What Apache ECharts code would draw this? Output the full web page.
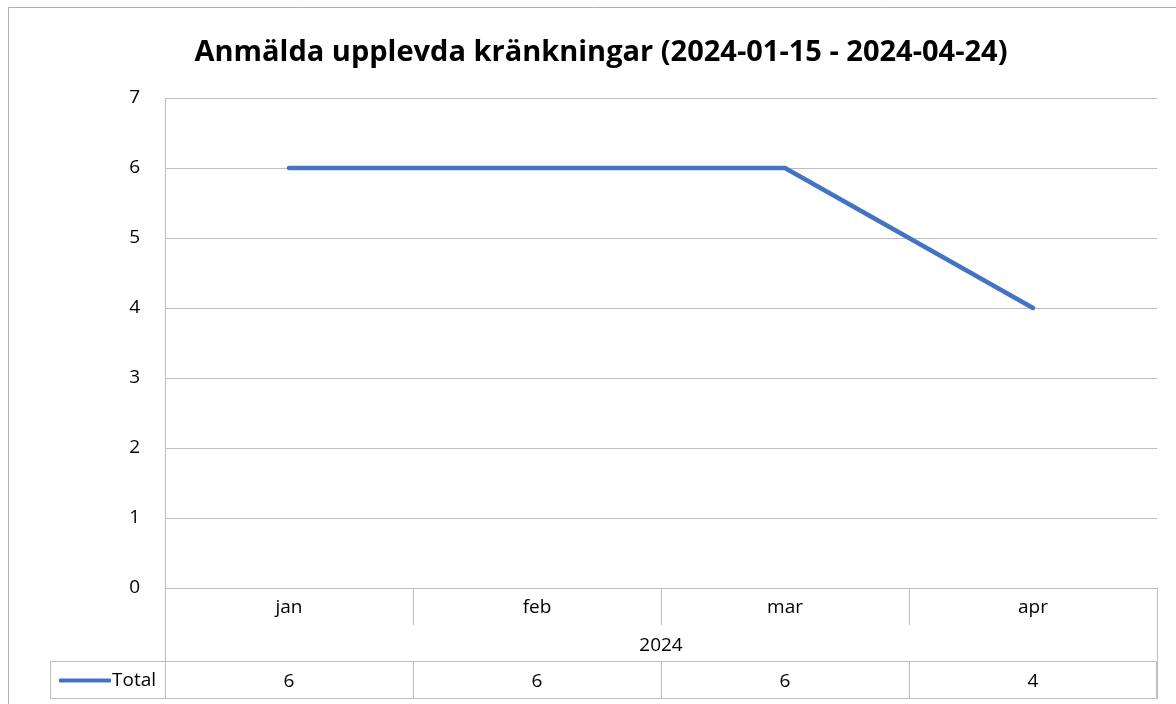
<!DOCTYPE html>
<html>
<head>
<meta charset="utf-8">
<script src="https://cdn.jsdelivr.net/npm/echarts@6/dist/echarts.min.js"></script>
<style>
  html, body { margin: 0; padding: 0; background: #fff; }
  #main { width: 1176px; height: 704px; }
</style>
</head>
<body>
<div id="main"></div>
<script>
var months = ['jan', 'feb', 'mar', 'apr'];
var yearLabel = ['2024'];
var totals = [6, 6, 6, 4];
var seriesName = 'Total';
var chartTitle = 'Anmälda upplevda kränkningar (2024-01-15 - 2024-04-24)';

var myChart = echarts.init(document.getElementById('main'));
var font = 'Open Sans';
var gridColor = '#bfbfbf';

option = {
    animation: false,
    backgroundColor: '#fff',
    textStyle: { fontFamily: font },
    title: {
        text: chartTitle,
        left: 596,
        top: 33,
        textAlign: 'center',
        textStyle: { fontFamily: font, fontWeight: 'bold', fontSize: 29, color: '#000' }
    },
    legend: {
        data: [seriesName],
        left: 54,
        top: 666,
        itemWidth: 52,
        itemHeight: 4,
        itemGap: 0,
        icon: 'roundRect',
        textStyle: { fontFamily: font, fontSize: 19, color: '#000', padding: [0, 0, 0, -4] }
    },
    grid: { left: 165, right: 19, top: 98, bottom: 116 },
    xAxis: [
        {
            type: 'category',
            data: months,
            boundaryGap: true,
            axisLine: { lineStyle: { color: gridColor } },
            axisTick: { show: true, length: 37, lineStyle: { color: gridColor } },
            axisLabel: { color: '#000', fontSize: 19, margin: 10, fontFamily: font }
        },
        {
            type: 'category',
            data: yearLabel,
            position: 'bottom',
            offset: 37,
            boundaryGap: true,
            axisLine: { show: false },
            axisTick: { show: true, length: 36, lineStyle: { color: gridColor } },
            axisLabel: { color: '#000', fontSize: 19, margin: 11, fontFamily: font }
        },
        {
            type: 'category',
            data: totals.map(String),
            position: 'bottom',
            offset: 73,
            boundaryGap: true,
            axisLine: { show: true, lineStyle: { color: gridColor } },
            axisTick: { show: true, length: 38, lineStyle: { color: gridColor } },
            axisLabel: { color: '#000', fontSize: 19, margin: 11, fontFamily: font }
        }
    ],
    yAxis: {
        type: 'value',
        min: 0,
        max: 7,
        interval: 1,
        axisLine: { show: true, lineStyle: { color: gridColor } },
        axisTick: { show: false },
        splitLine: { lineStyle: { color: gridColor } },
        axisLabel: { color: '#000', fontSize: 19, margin: 25, fontFamily: font }
    },
    graphic: [
        {
            type: 'rect',
            shape: { x: 8.5, y: 7.5, width: 1180, height: 720 },
            style: { fill: null, stroke: '#b0b0b0', lineWidth: 1 },
            silent: true
        },
        {
            type: 'rect',
            shape: { x: 50.5, y: 661.5, width: 1106, height: 37 },
            style: { fill: null, stroke: gridColor, lineWidth: 1 },
            silent: true
        }
    ],
    series: [
        {
            name: seriesName,
            type: 'line',
            data: totals,
            showSymbol: false,
            symbol: 'none',
            lineStyle: { color: '#4472C4', width: 4.5, cap: 'round', join: 'round' },
            itemStyle: { color: '#4472C4' }
        }
    ]
};

myChart.setOption(option);
</script>
</body>
</html>
